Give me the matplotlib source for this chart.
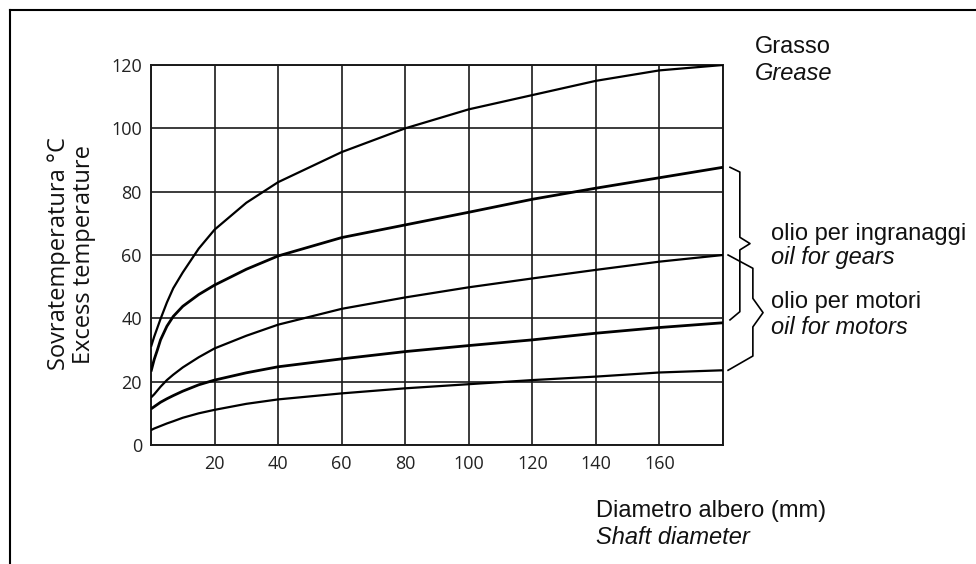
import numpy as np
import matplotlib.pyplot as plt
from matplotlib.lines import Line2D

# diametro albero (mm)
diam = [0, 1, 2, 3, 5, 7, 10, 15, 20, 30, 40, 60, 80, 100, 120, 140, 160, 180]

# sovratemperatura (°C)
grasso = [31, 34.2, 37, 39.8, 45, 49.5, 54.5, 62, 68, 76.5, 83, 92.5, 100, 106, 110.5, 115, 118.3, 120]
ingranaggi_alto = [23.2, 27, 30, 33.2, 37.5, 40.6, 43.8, 47.5, 50.5, 55.5, 59.7, 65.5, 69.5, 73.5, 77.6, 81.1, 84.4, 87.7]
ingranaggi_basso = [15, 16, 17.2, 18.4, 20.5, 22.2, 24.5, 27.7, 30.5, 34.5, 38, 43, 46.6, 49.8, 52.6, 55.3, 57.9, 60]
motori_alto = [11.4, 12.1, 12.8, 13.5, 14.6, 15.6, 17, 19, 20.5, 22.8, 24.7, 27.2, 29.5, 31.4, 33.2, 35.3, 37.1, 38.6]
motori_basso = [4.7, 5.2, 5.6, 6, 6.8, 7.5, 8.6, 10, 11.1, 13, 14.4, 16.3, 17.9, 19.2, 20.5, 21.6, 22.9, 23.6]

x_ticks = [20, 40, 60, 80, 100, 120, 140, 160]
y_ticks = [0, 20, 40, 60, 80, 100, 120]

W, H = 976, 564
fig = plt.figure(figsize=(W / 100, H / 100), dpi=100)
ax = fig.add_axes([151 / W, 1 - 445 / H, 572 / W, 380 / H])

curves = [(grasso, 1.6), (ingranaggi_alto, 2.0), (ingranaggi_basso, 1.6),
          (motori_alto, 2.0), (motori_basso, 1.6)]
for ys, lw in curves:
    ax.plot(diam, ys, color='black', lw=lw, solid_capstyle='butt',
            solid_joinstyle='round', zorder=3)

ax.set_xlim(0, 180)
ax.set_ylim(0, 120)
ax.set_xticks(x_ticks)
ax.set_yticks(y_ticks)
ax.set_xticks(np.arange(0, 181, 20), minor=True)
ax.grid(True, which='both', color='#1a1a1a', lw=1.2, zorder=1)
ax.tick_params(which='both', length=0, labelsize=13, colors='#222222')
ax.tick_params(axis='x', pad=7)
ax.tick_params(axis='y', pad=6.5)
for lab in ax.get_xticklabels() + ax.get_yticklabels():
    lab.set_fontfamily('Open Sans')
for s in ax.spines.values():
    s.set_linewidth(1.4)
    s.set_color('#1a1a1a')


def brace(y_top, y_bot, x0, x1, xtip, d_top, d_bot, e):
    ym = (y_top + y_bot) / 2
    xs = [x0, x1, x1, xtip, x1, x1, x0]
    ys = [y_top, y_top - d_top, ym + e, ym, ym - e, y_bot + d_bot, y_bot]
    ax.plot(xs, ys, color='black', lw=1.2, clip_on=False)


brace(ingranaggi_alto[-1], motori_alto[-1] + 0.9, 182.2, 185.3, 188.5, 1.5, 2.6, 2)
brace(ingranaggi_basso[-1], motori_basso[-1], 181.6, 189.4, 192.6, 4.2, 4.5, 4.5)

# etichette
lbl = dict(family='Liberation Sans', fontsize=17, color='#111111', va='baseline')
def ftext(px, py, s, **kw):
    return fig.text(px / W, 1 - py / H, s, **{**lbl, **kw})

ftext(755, 53, 'Grasso')
ftext(755, 80, 'Grease', style='italic')
ftext(771, 240, 'olio per ingranaggi')
ftext(771, 264, 'oil for gears', style='italic')
ftext(771, 308, 'olio per motori')
ftext(771, 334, 'oil for motors', style='italic')

t = ftext(826, 517, 'Diametro albero (mm)', ha='right')
r = fig.canvas.get_renderer()
x0 = t.get_window_extent(r).x0
ftext(x0, 544, 'Shaft diameter', style='italic')

ylbl = dict(family='Open Sans', fontsize=17, color='#111111',
            rotation=90, ha='center', va='center')
fig.text(59 / W, 1 - 254 / H, 'Sovratemperatura °C', **ylbl)
fig.text(84 / W, 1 - 254 / H, 'Excess temperature', **ylbl)

# cornice
fig.add_artist(Line2D([10 / W, 1], [1 - 10 / H, 1 - 10 / H], color='black', lw=1.5))
fig.add_artist(Line2D([10 / W, 10 / W], [0, 1 - 10 / H], color='black', lw=1.5))

fig.savefig('out.png', dpi=100)
